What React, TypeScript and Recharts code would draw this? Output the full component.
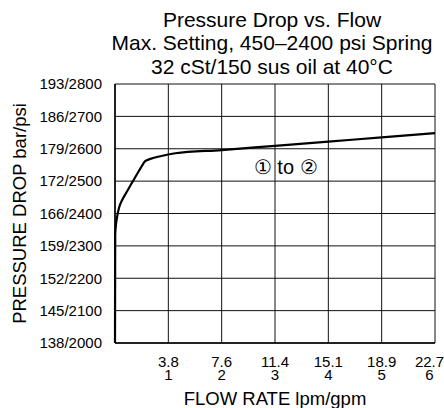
import React from 'react';
import {
  LineChart,
  Line,
  XAxis,
  YAxis,
  CartesianGrid,
  ReferenceDot,
} from 'recharts';

// flow (gpm) and pressure drop (psi)
const gpmValues = [0, 0.004, 0.02, 0.045, 0.08, 0.13, 0.2, 0.28, 0.34, 0.45, 0.52, 0.56, 0.65, 0.85, 1.13, 2.0, 3.0, 4.0, 5.0, 6.0];
const psiValues = [2000, 2335, 2368, 2395, 2420, 2440, 2461, 2484, 2501, 2532, 2551, 2561, 2568, 2577, 2586, 2596, 2609, 2622, 2635, 2648];

const psiTicks = [2000, 2100, 2200, 2300, 2400, 2500, 2600, 2700, 2800];
const barTicks = [138, 145, 152, 159, 166, 172, 179, 186, 193];

const gpmTicks = [1, 2, 3, 4, 5, 6];
const lpmTicks = ['3.8', '7.6', '11.4', '15.1', '18.9', '22.7'];

const titleLines = [
  'Pressure Drop vs. Flow',
  'Max. Setting, 450–2400 psi Spring',
  '32 cSt/150 sus oil at 40°C',
];

const data = gpmValues.map((gpm, i) => ({ gpm, psi: psiValues[i] }));

const FONT = '"Liberation Sans", Arial, Helvetica, sans-serif';

// two-line tick: lpm on top, gpm below; keep the last one inside the frame
const FlowTick = (props: any) => {
  const { x, y, payload } = props;
  const idx = gpmTicks.indexOf(payload.value);
  const cx = Math.min(x, 429.5);
  return (
    <text x={cx} y={y} textAnchor="middle" fill="#000" fontSize={15} fontFamily={FONT}>
      <tspan x={cx} dy={23.7}>{lpmTicks[idx]}</tspan>
      <tspan x={cx} dy={13.4}>{payload.value}</tspan>
    </text>
  );
};

const App: React.FC = () => {
  return (
    <div
      style={{
        position: 'absolute',
        left: 0,
        top: 0,
        width: 444,
        height: 408,
        background: '#fff',
        fontFamily: FONT,
      }}
    >
      <div
        style={{
          position: 'absolute',
          left: 72,
          top: 8,
          width: 400,
          textAlign: 'center',
          fontSize: 21,
          lineHeight: '23.3px',
          color: '#000',
        }}
      >
        {titleLines.map((t) => (
          <div key={t}>{t}</div>
        ))}
      </div>
      <LineChart
        width={444}
        height={408}
        data={data}
        margin={{ top: 84, right: 9, bottom: 0, left: 0 }}
      >
        <CartesianGrid stroke="#111" strokeWidth={1} />
        <XAxis
          type="number"
          dataKey="gpm"
          domain={[0, 6]}
          ticks={gpmTicks}
          tick={<FlowTick />}
          tickLine={false}
          tickSize={0}
          tickMargin={0}
          height={65}
          axisLine={{ stroke: '#000', strokeWidth: 1.5 }}
          label={{
            value: 'FLOW RATE lpm/gpm',
            position: 'insideBottom',
            offset: 3,
            fill: '#000',
            fontSize: 18.5,
            fontFamily: FONT,
          }}
        />
        <YAxis
          type="number"
          domain={[2000, 2800]}
          ticks={psiTicks}
          tickFormatter={(v: number) => `${barTicks[psiTicks.indexOf(v)]}/${v}`}
          tick={{ fill: '#000', fontSize: 15, fontFamily: FONT }}
          tickLine={false}
          tickSize={0}
          tickMargin={13}
          width={115}
          axisLine={{ stroke: '#000', strokeWidth: 1.5 }}
          label={{
            value: 'PRESSURE DROP bar/psi',
            angle: -90,
            position: 'center',
            dx: -38,
            fill: '#000',
            fontSize: 18.5,
            fontFamily: FONT,
          }}
        />
        <ReferenceDot
          x={3.2}
          y={2543}
          r={0}
          fill="none"
          stroke="none"
          label={{
            value: '① to ②',
            position: 'center',
            fill: '#000',
            fontSize: 20,
            fontFamily: FONT,
          }}
        />
        <Line
          type="monotone"
          dataKey="psi"
          stroke="#000"
          strokeWidth={2.2}
          dot={false}
          isAnimationActive={false}
        />
      </LineChart>
    </div>
  );
};

export default App;
